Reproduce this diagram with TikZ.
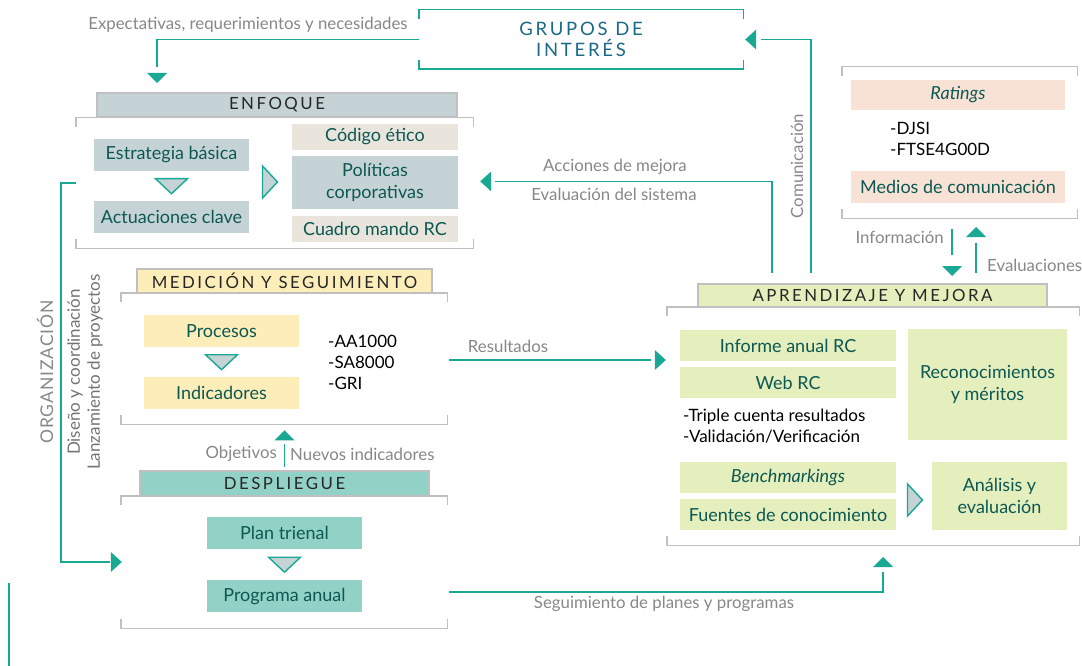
\documentclass[tikz,border=0pt]{standalone}
\usepackage{fontspec}
\setmainfont{Lato}
\newfontfamily\capsfont[LetterSpace=15]{Lato}
\newfontfamily\orgfont[LetterSpace=5]{Lato}
\usetikzlibrary{positioning,calc}

\definecolor{linkteal}{RGB}{24,168,148}
\definecolor{boxtxt}{RGB}{12,88,82}
\definecolor{enfcol}{RGB}{197,211,214}
\definecolor{beige}{RGB}{233,229,221}
\definecolor{yell}{RGB}{253,237,185}
\definecolor{mint}{RGB}{146,209,197}
\definecolor{lgreen}{RGB}{229,238,189}
\definecolor{peach}{RGB}{247,226,213}
\definecolor{labgray}{RGB}{135,135,135}
\definecolor{frmgray}{RGB}{192,192,192}
\definecolor{grpblue}{RGB}{25,105,135}

% open frame: only the corners of the box are drawn
\newcommand{\brk}[2][frmgray]{%
  \draw[draw=#1,line width=1.4pt] ([yshift=-9pt]#2.north west) -- (#2.north west) -- (#2.north east) -- ([yshift=-9pt]#2.north east);
  \draw[draw=#1,line width=1.4pt] ([yshift=9pt]#2.south west) -- (#2.south west) -- (#2.south east) -- ([yshift=9pt]#2.south east);}
% solid heads (tip given)
\newcommand{\headdn}[1]{\fill[linkteal] (#1) ++(-10,-10) -- ++(20,0) -- ++(-10,10) -- cycle;}
\newcommand{\headup}[1]{\fill[linkteal] (#1) ++(-10,10) -- ++(20,0) -- ++(-10,-10) -- cycle;}
\newcommand{\headlt}[1]{\fill[linkteal] (#1) ++(11,-10) -- ++(0,20) -- ++(-11,-10) -- cycle;}
\newcommand{\headrt}[1]{\fill[linkteal] (#1) ++(-11,-10) -- ++(0,20) -- ++(11,-10) -- cycle;}
% open heads between boxes (centre given)
\newcommand{\tridn}[1]{\filldraw[tri] (#1) ++(-16,-7.5) -- ++(32,0) -- ++(-16,15) -- cycle;}
\newcommand{\trirt}[1]{\filldraw[tri] (#1) ++(-7.5,-16) -- ++(0,32) -- ++(15,-16) -- cycle;}

\tikzset{
  link/.style={draw=linkteal,line width=1.5pt},
  lab/.style={text=labgray,font=\fontsize{16.8}{19}\selectfont,inner sep=0pt},
  box/.style={fill=#1,text=boxtxt,minimum height=32pt,align=center,inner sep=0pt,
    font=\fontsize{18}{22}\selectfont},
  head/.style={fill=#1,draw=frmgray,line width=1.2pt,text=black!85,inner sep=0pt,
    font=\capsfont\fontsize{16.8}{18}\selectfont},
  frame/.style={inner sep=0pt},
  tri/.style={draw=linkteal,fill=enfcol,line width=1.4pt,line join=miter},
  list/.style={align=left,font=\fontsize{17}{21}\selectfont,inner sep=0pt},
}

\begin{document}
\begin{tikzpicture}[x=1pt,y=-1pt]
\useasboundingbox (0,0) rectangle (1082,666);

% grupos de interes
\node[frame,minimum width=324pt,minimum height=59pt,text=grpblue,align=center,
  font=\capsfont\fontsize{18.5}{21}\selectfont] (grupos) at (581,39.5) {GRUPOS DE\\INTERÉS};
\brk[linkteal]{grupos}

% enfoque
\node[head=enfcol,minimum width=360pt,minimum height=24pt] (enfH) at (277,105) {ENFOQUE};
\node[frame,minimum width=397pt,minimum height=130pt] (enfF) at (274.5,183) {};
\brk{enfF}
\node[box=enfcol,minimum width=155pt] (estr) at (171.5,155) {Estrategia básica};
\node[box=enfcol,minimum width=155pt,below=30pt of estr] (actu) {Actuaciones clave};
\node[box=beige,minimum width=166pt,minimum height=26pt] (codigo) at (375,137) {Código ético};
\node[box=enfcol,minimum width=166pt,minimum height=53pt,below=6pt of codigo] (polit) {Políticas\\corporativas};
\node[box=beige,minimum width=166pt,minimum height=26pt,below=6pt of polit] (cuadro) {Cuadro mando RC};
\tridn{$(estr.south)!0.5!(actu.north)$}
\trirt{270,182}

% medicion y seguimiento
\node[head=yell,minimum width=295pt,minimum height=24pt] (medH) at (284.5,281) {MEDICIÓN Y SEGUIMIENTO};
\node[frame,minimum width=326pt,minimum height=131pt] (medF) at (284,358.5) {};
\brk{medF}
\node[box=yell,minimum width=155pt] (proc) at (221.5,331) {Procesos};
\node[box=yell,minimum width=155pt,below=30pt of proc] (indi) {Indicadores};
\tridn{$(proc.south)!0.5!(indi.north)$}
\node[list,anchor=west] (norms) at (328,362) {-AA1000\\-SA8000\\-GRI};

% despliegue
\node[head=mint,minimum width=289pt,minimum height=25pt] (despH) at (284.5,483.5) {DESPLIEGUE};
\node[frame,minimum width=326pt,minimum height=132pt] (despF) at (284,562) {};
\brk{despF}
\node[box=mint,minimum width=155pt] (plan) at (284.5,533) {Plan trienal};
\node[box=mint,minimum width=155pt,below=31pt of plan] (prog) {Programa anual};
\tridn{$(plan.south)!0.5!(prog.north)$}

% aprendizaje y mejora
\node[head=lgreen,minimum width=349pt,minimum height=23pt] (aprH) at (872.5,295.5) {APRENDIZAJE Y MEJORA};
\node[frame,minimum width=412pt,minimum height=238pt] (aprF) at (873,426) {};
\brk{aprF}
\node[box=lgreen,minimum width=216pt,minimum height=31pt] (inf) at (788,345.5) {Informe anual RC};
\node[box=lgreen,minimum width=216pt,minimum height=31pt,below=6pt of inf] (web) {Web RC};
\node[list,anchor=west] (tcr) at (683,426.5) {-Triple cuenta resultados\\-Validación/Verificación};
\node[box=lgreen,minimum width=159pt,minimum height=111pt] (reco) at (987.5,384.5) {Reconocimientos\\y méritos};
\node[box=lgreen,minimum width=216pt,minimum height=31pt] (bench) at (788,477.5) {\itshape Benchmarkings};
\node[box=lgreen,minimum width=216pt,minimum height=31pt,below=6pt of bench] (fuen) {Fuentes de conocimiento};
\node[box=lgreen,minimum width=135pt,minimum height=68pt] (anal) at (999.5,496) {Análisis y\\evaluación};
\trirt{915,500}

% ratings
\node[frame,minimum width=235pt,minimum height=151pt] (ratF) at (959.5,142.5) {};
\brk{ratF}
\node[box=peach,minimum width=214pt,minimum height=30pt] (rat) at (958,95) {\itshape Ratings};
\node[list,anchor=west] (djsi) at (890,138.5) {-DJSI\\-FTSE4G00D};
\node[box=peach,minimum width=214pt,minimum height=32pt] (medios) at (958,187) {Medios de comunicación};

% connectors
\coordinate (hExp) at (157,83);
\draw[link] (grupos.west) -| ([yshift=16pt]hExp);
\headdn{hExp}
\node[lab] (lExp) at (248,25) {Expectativas, requerimientos y necesidades};

\coordinate (cFoot) at (811,273);
\coordinate (hCom) at ([xshift=2pt]grupos.east);
\draw[link] (cFoot) |- ([xshift=16pt]hCom);
\headlt{hCom}
\node[lab,rotate=90] (lCom) at (797,166) {Comunicación};

\coordinate (aFoot) at (772,273);
\coordinate (hAcc) at ([xshift=22pt,yshift=1.5pt]polit.east);
\draw[link] (aFoot) |- ([xshift=15pt]hAcc);
\headlt{hAcc}
\node[lab] (lAcc) at (615,167) {Acciones de mejora};
\node[lab] (lEva) at (614,194) {Evaluación del sistema};

\coordinate (iTop) at (952,229);
\coordinate (hInf) at (952,276);
\draw[link] (iTop) -- ([yshift=21pt]hInf);
\headdn{hInf}
\node[lab,anchor=east] (lInf) at (944,237) {Información};
\coordinate (eFoot) at (976,273);
\coordinate (hEva) at (976,227);
\draw[link] (eFoot) -- ([yshift=-16pt]hEva);
\headup{hEva}
\node[lab,anchor=west] (lEvs) at (987,265) {Evaluaciones};

\coordinate (hRes) at ([xshift=-1pt]aprF.west |- medF.east);
\draw[link] ([xshift=2pt,yshift=-1.5pt]medF.east) -- ([xshift=-15pt,yshift=-1.5pt]hRes);
\headrt{$(hRes)+(0,1.5)$}
\node[lab] (lRes) at (508,346) {Resultados};

\coordinate (hSeg) at (883,557);
\draw[link] ([xshift=2pt,yshift=-30pt]despF.east) -| ([yshift=-15pt]hSeg);
\headup{hSeg}
\node[lab] (lSeg) at (664,604) {Seguimiento de planes y programas};

\coordinate (hObj) at ([yshift=40pt]despH.north);
\draw[link,line width=1.2pt] ([yshift=3pt]despH.north) -- ([yshift=-14pt]hObj);
\headup{hObj}
\node[lab,anchor=east] (lObj) at (277,454) {Objetivos};
\node[lab,anchor=west] (lNue) at (290,454) {Nuevos indicadores};

\coordinate (hOrg) at ([xshift=1pt]despF.west);
\draw[link] (enfF.west) -- ++(-15,0) |- ([xshift=-12pt]hOrg);
\headrt{hOrg}
\node[lab,rotate=90,font=\orgfont\fontsize{17.5}{19}\selectfont] (lOrg) at (45,372) {ORGANIZACIÓN};
\node[lab,rotate=90,align=center,text=black!55,font=\fontsize{17}{20}\selectfont] (lDis) at (85,372)
  {Diseño y coordinación\\Lanzamiento de proyectos};

\coordinate (sTop) at (9,583);
\coordinate (sBot) at (9,666);
\draw[link] (sTop) -- (sBot);
\end{tikzpicture}
\end{document}
